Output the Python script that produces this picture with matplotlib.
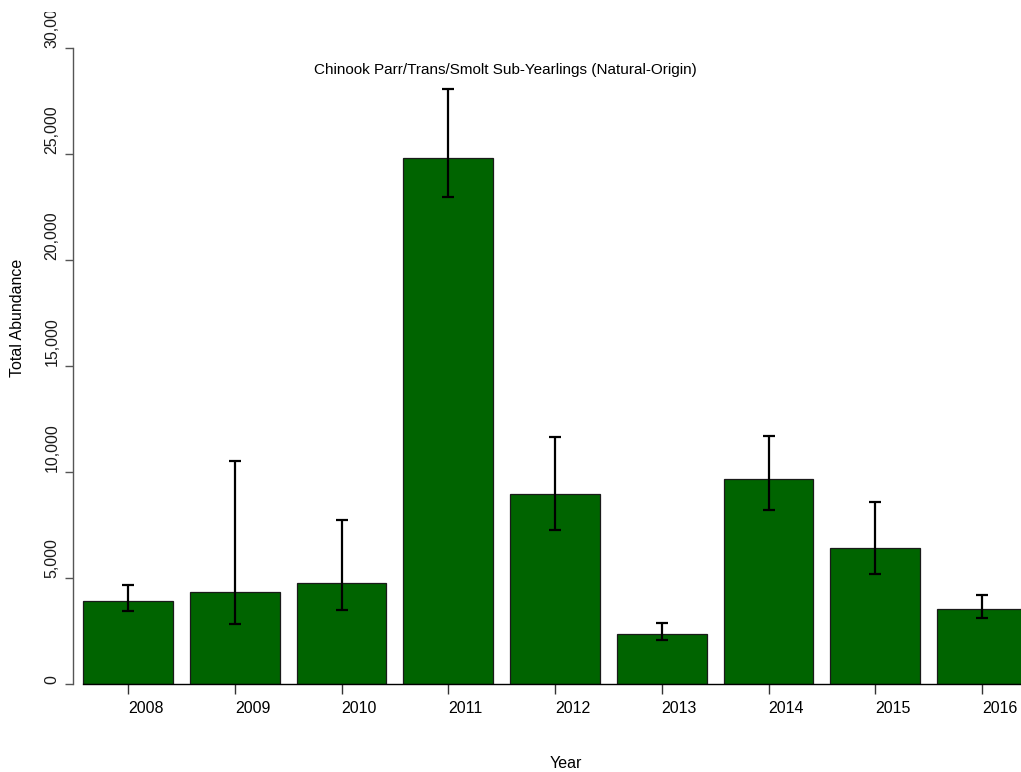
import numpy as np
import matplotlib.pyplot as plt
from matplotlib import transforms
from matplotlib.transforms import Bbox

plt.rcParams['font.family'] = ['Liberation Sans', 'DejaVu Sans']

#====================== DATA ==============================================

years = ['2008', '2009', '2010', '2011', '2012', '2013', '2014', '2015', '2016']
abundance = [3930, 4340, 4760, 24810, 8960, 2360, 9670, 6420, 3520]
ci_low = [3430, 2830, 3480, 22970, 7260, 2080, 8210, 5190, 3100]
ci_high = [4670, 10500, 7720, 28070, 11650, 2880, 11700, 8580, 4200]

yticks = [0, 5000, 10000, 15000, 20000, 25000, 30000]

#====================== PLOT ==============================================

W, H = 1021, 772
fig = plt.figure(figsize=(W / 100, H / 100), dpi=100)

# pixel layout: bar centres at 128 + 106.75*i, y = 0 at row 684, 30000 at row 48
x0_px, step_px = 128, 106.75
ax_left, ax_right = 73, 1040
xmin = (ax_left - x0_px) / step_px
xmax = (ax_right - x0_px) / step_px
ax = fig.add_axes([ax_left / W, (H - 684) / H, (ax_right - ax_left) / W, (684 - 48) / H])
ax.set_xlim(xmin, xmax)
ax.set_ylim(0, 30000)

x = np.arange(len(years))
vals = np.array(abundance)
lo = vals - np.array(ci_low)
hi = np.array(ci_high) - vals

ax.bar(x, vals, width=0.84, color='#006400', edgecolor='#1a1a1a', linewidth=0.9, zorder=2)
ax.errorbar(x, vals, yerr=[lo, hi], fmt='none', ecolor='black', elinewidth=1.6,
            capsize=4.3, capthick=1.6, zorder=3)

for s in ['top', 'right']:
    ax.spines[s].set_visible(False)
ax.spines['left'].set_bounds(0, 30000)
ax.spines['left'].set_color('#555555')
ax.spines['left'].set_linewidth(1.0)
ax.spines['bottom'].set_bounds(-0.42, xmax)
ax.spines['bottom'].set_color('black')
ax.spines['bottom'].set_linewidth(1.0)

ax.set_yticks(yticks)
ax.set_yticklabels([])
ax.tick_params(axis='y', length=6, width=1.0, color='#555555')

ax.set_xticks(x)
ax.set_xticklabels(years, ha='left', fontsize=11.5)
ax.tick_params(axis='x', length=7, width=1.0, color='#333333', pad=5.5)

# rotated y labels, starting at the tick
ytrans = transforms.blended_transform_factory(fig.transFigure, ax.transData)
clip = Bbox([[0, 0], [W, H - 12]])
for v in yticks:
    t = ax.text(52 / W, v, f'{v:,}', transform=ytrans, rotation=90,
                rotation_mode='anchor', ha='left', va='center', fontsize=11.5,
                color='#1a1a1a', clip_on=True)
    t.set_clip_box(clip)

fig.text(505 / W, 1 - 70 / H, 'Chinook Parr/Trans/Smolt Sub-Yearlings (Natural-Origin)',
         ha='center', va='center', fontsize=11)
fig.text(566 / W, 1 - 763 / H, 'Year', ha='center', va='center', fontsize=11.5)
fig.text(18 / W, 1 - 318 / H, 'Total Abundance', ha='center', va='center',
         rotation=90, fontsize=11.5)

fig.savefig('out.png', dpi=100)
